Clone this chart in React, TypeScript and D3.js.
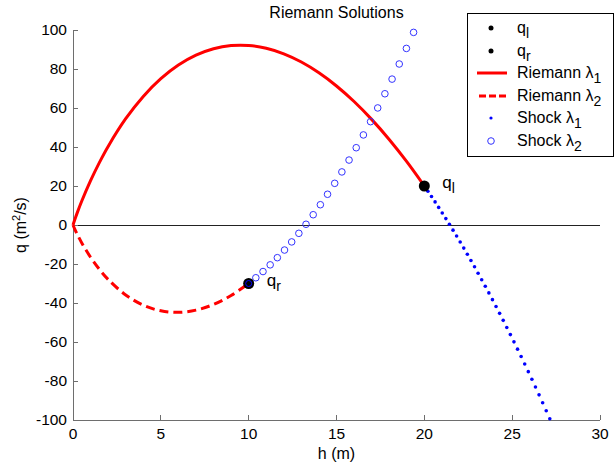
import React from "react";
import * as d3 from "d3";

// Riemann λ1 integral curve through q_l
const riemann1H = [0, 0.1, 0.25, 0.5, 1, 1.5, 2, 3, 4, 5, 6, 7, 8, 9, 10, 11, 12, 13, 14, 15, 16, 17, 18, 19, 20];
const riemann1Q = [0, 2.703, 6.471, 12.292, 22.75, 32.013, 40.311, 54.493, 65.944, 75.036, 82.021, 87.086, 90.372, 91.996, 92.052, 90.621, 87.774, 83.57, 78.062, 71.298, 63.321, 54.169, 43.877, 32.477, 20];

// Riemann λ2 integral curve through q_r
const riemann2H = [0, 0.1, 0.25, 0.5, 1, 1.5, 2, 3, 4, 5, 6, 7, 8, 9, 10];
const riemann2Q = [0, -2.083, -4.919, -9.19, -16.545, -22.706, -27.9, -35.878, -41.123, -44.01, -44.79, -43.649, -40.73, -36.149, -30];

// Shock λ1 (dots)
const shock1H = [20, 20.2041, 20.4082, 20.6122, 20.8163, 21.0204, 21.2245, 21.4286, 21.6327, 21.8367, 22.0408, 22.2449, 22.449, 22.6531, 22.8571, 23.0612, 23.2653, 23.4694, 23.6735, 23.8776, 24.0816, 24.2857, 24.4898, 24.6939, 24.898, 25.102, 25.3061, 25.5102, 25.7143, 25.9184, 26.1224, 26.3265, 26.5306, 26.7347, 26.9388, 27.1429];
const shock1Q = [20, 17.323, 14.603, 11.84, 9.033, 6.182, 3.287, 0.349, -2.633, -5.656, -8.724, -11.835, -14.99, -18.188, -21.427, -24.712, -28.039, -31.409, -34.823, -38.278, -41.776, -45.318, -48.903, -52.531, -56.201, -59.913, -63.67, -67.468, -71.309, -75.194, -79.119, -83.089, -87.101, -91.157, -95.253, -99.393];

// Shock λ2 (circles)
const shock2H = [10, 10.4082, 10.8163, 11.2245, 11.6327, 12.0408, 12.449, 12.8571, 13.2653, 13.6735, 14.0816, 14.4898, 14.898, 15.3061, 15.7143, 16.1224, 16.5306, 16.9388, 17.3469, 17.7551, 18.1633, 18.5714, 18.9796, 19.3878];
const shock2Q = [-30, -27.057, -23.87, -20.437, -16.759, -12.838, -8.674, -4.269, 0.379, 5.268, 10.396, 15.764, 21.373, 27.219, 33.305, 39.629, 46.192, 52.993, 60.029, 67.305, 74.818, 82.566, 90.552, 98.776];

const stateL = { h: 20, q: 20 };
const stateR = { h: 10, q: -30 };

const xTicks = [0, 5, 10, 15, 20, 25, 30];
const yTicks = [-100, -80, -60, -40, -20, 0, 20, 40, 60, 80, 100];

const W = 615, H = 470;
const M = { left: 73, right: 600, top: 30, bottom: 420 };
const FONT = "Liberation Sans, Arial, sans-serif";

export default function App() {
  const x = d3.scaleLinear().domain([0, 30]).range([M.left, M.right]);
  const y = d3.scaleLinear().domain([-100, 100]).range([M.bottom, M.top]);
  const line = d3.line<[number, number]>().x(d => x(d[0])).y(d => y(d[1])).curve(d3.curveCatmullRom.alpha(0.5));
  const r1 = riemann1H.map((h, i) => [h, riemann1Q[i]] as [number, number]);
  const r2 = riemann2H.map((h, i) => [h, riemann2Q[i]] as [number, number]);
  const axisColor = "#6e6e6e";
  const lx = 467, ly = 13;
  const rows = [28, 51, 73, 96, 118, 141];
  const legendText = (yy: number, main: string, sub: string) => (
    <text x={517} y={yy + 5} fontSize={16} fontFamily={FONT} fill="#000">
      {main}<tspan dy={5} fontSize={14}>{sub}</tspan>
    </text>
  );
  return (
    <svg width={W} height={H} style={{ position: "absolute", left: 0, top: 0, background: "#fff" }}>
      <rect x={0} y={0} width={W} height={H} fill="#fff" />
      {/* title */}
      <text x={(M.left + M.right) / 2} y={18} textAnchor="middle" fontSize={16} fontFamily={FONT}>Riemann Solutions</text>
      {/* zero line */}
      <line x1={x(0)} x2={x(30)} y1={y(0)} y2={y(0)} stroke="#222" strokeWidth={1} shapeRendering="crispEdges" />
      {/* axes */}
      <line x1={M.left} x2={M.left} y1={M.top} y2={M.bottom} stroke={axisColor} strokeWidth={1} shapeRendering="crispEdges" />
      <line x1={M.left} x2={M.right} y1={M.bottom} y2={M.bottom} stroke={axisColor} strokeWidth={1} shapeRendering="crispEdges" />
      {yTicks.map(t => (
        <g key={"y" + t}>
          <line x1={M.left} x2={M.left + 5} y1={y(t)} y2={y(t)} stroke={axisColor} shapeRendering="crispEdges" />
          <text x={M.left - 6} y={y(t) + 5} textAnchor="end" fontSize={15.5} fontFamily={FONT}>{t}</text>
        </g>
      ))}
      {xTicks.map(t => (
        <g key={"x" + t}>
          <line x1={x(t)} x2={x(t)} y1={M.bottom} y2={M.bottom - 5} stroke={axisColor} shapeRendering="crispEdges" />
          <text x={x(t)} y={M.bottom + 19} textAnchor="middle" fontSize={15.5} fontFamily={FONT}>{t}</text>
        </g>
      ))}
      <text x={(M.left + M.right) / 2} y={459} textAnchor="middle" fontSize={16} fontFamily={FONT}>h (m)</text>
      <text transform={`translate(26,${y(0)}) rotate(-90)`} textAnchor="middle" fontSize={16} fontFamily={FONT}>
        q (m<tspan dy={-6} fontSize={11}>2</tspan><tspan dy={6}>/s)</tspan>
      </text>
      {/* curves */}
      <path d={line(r1) || ""} fill="none" stroke="#ff0000" strokeWidth={3} />
      <path d={line(r2) || ""} fill="none" stroke="#ff0000" strokeWidth={3} strokeDasharray="9,5" />
      {shock1H.map((h, i) => (
        <circle key={"s1" + i} cx={x(h)} cy={y(shock1Q[i])} r={1.8} fill="#0000ff" />
      ))}
      {shock2H.map((h, i) => (
        <circle key={"s2" + i} cx={x(h)} cy={y(shock2Q[i])} r={3.3} fill="none" stroke="#3333ff" strokeWidth={1} />
      ))}
      {/* states */}
      <circle cx={x(stateL.h)} cy={y(stateL.q)} r={5.5} fill="#000" />
      <circle cx={x(stateR.h)} cy={y(stateR.q)} r={5.5} fill="#000" />
      <circle cx={x(stateR.h)} cy={y(stateR.q)} r={3} fill="none" stroke="#0000ff" strokeWidth={1} />
      <text x={x(stateL.h) + 18} y={y(stateL.q) + 2} fontSize={17} fontFamily={FONT}>q<tspan dy={5} fontSize={14}>l</tspan></text>
      <text x={x(stateR.h) + 18} y={y(stateR.q) + 2} fontSize={17} fontFamily={FONT}>q<tspan dy={5} fontSize={14}>r</tspan></text>
      {/* legend */}
      <rect x={lx} y={ly} width={146} height={143} fill="#fff" stroke="#000" strokeWidth={1} shapeRendering="crispEdges" />
      <circle cx={491} cy={rows[0]} r={2.5} fill="#000" />
      {legendText(rows[0], "q", "l")}
      <circle cx={491} cy={rows[1]} r={2.5} fill="#000" />
      {legendText(rows[1], "q", "r")}
      <line x1={477} x2={507} y1={rows[2]} y2={rows[2]} stroke="#ff0000" strokeWidth={3} />
      {legendText(rows[2], "Riemann λ", "1")}
      <line x1={479} x2={507} y1={rows[3]} y2={rows[3]} stroke="#ff0000" strokeWidth={3} strokeDasharray="7,3" />
      {legendText(rows[3], "Riemann λ", "2")}
      <circle cx={491} cy={rows[4]} r={1.6} fill="#0000ff" />
      {legendText(rows[4], "Shock λ", "1")}
      <circle cx={491} cy={rows[5]} r={3.3} fill="none" stroke="#3333ff" strokeWidth={1} />
      {legendText(rows[5], "Shock λ", "2")}
    </svg>
  );
}
